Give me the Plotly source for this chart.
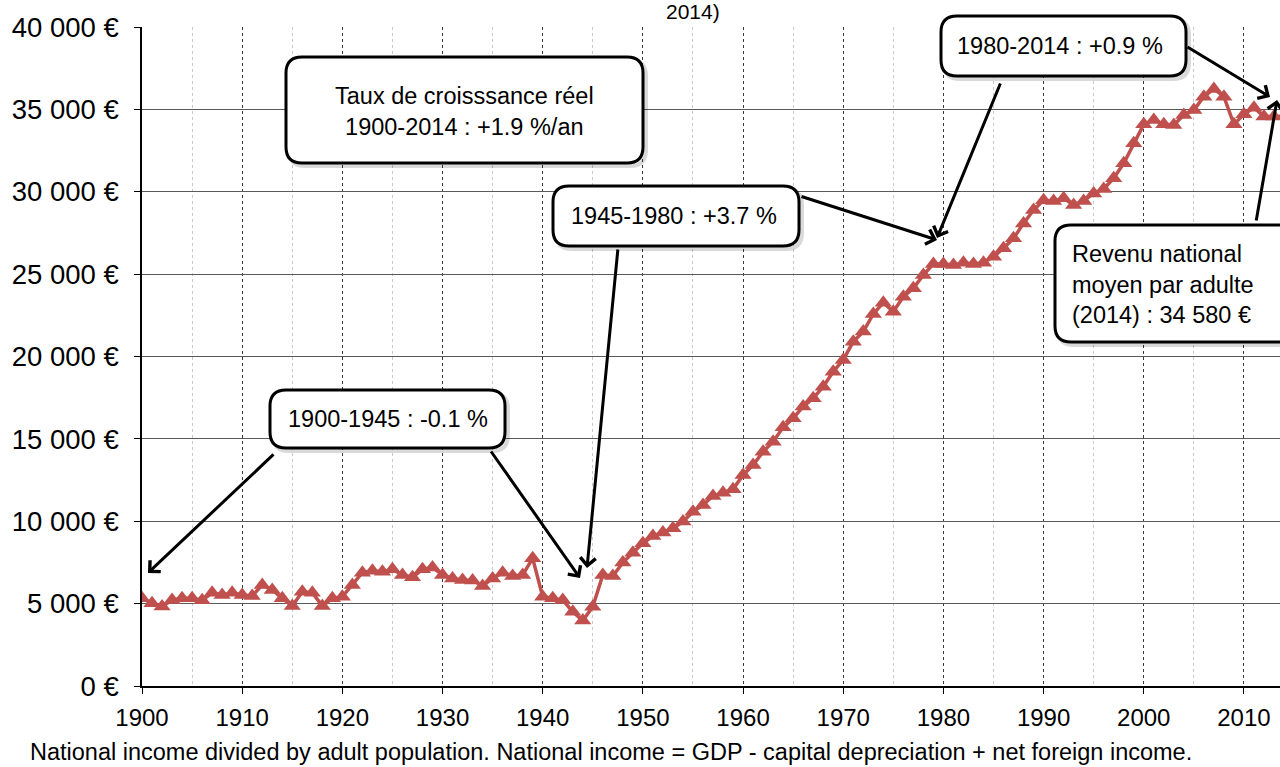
import plotly.graph_objects as go

years = list(range(1900, 2015))
income = [
    5320, 5020, 4820, 5220, 5320, 5320, 5200, 5660, 5520, 5660,
    5520, 5470, 6130, 5830, 5320, 4860, 5720, 5660, 4860, 5320,
    5420, 6130, 6880, 7000, 6940, 7080, 6740, 6600, 7080, 7200,
    6740, 6530, 6430, 6400, 6070, 6530, 6880, 6680, 6740, 7750,
    5420, 5320, 5220, 4510, 3970, 4810, 6740, 6680, 7490, 8090,
    8660, 9100, 9310, 9570, 9980, 10580, 10990, 11530, 11730, 11940,
    12810, 13410, 14220, 14830, 15700, 16250, 16960, 17460, 18170, 19080,
    19790, 20900, 21510, 22580, 23270, 22720, 23630, 24140, 24950, 25620,
    25620, 25550, 25690, 25620, 25690, 26060, 26570, 27170, 28080, 28890,
    29480, 29440, 29600, 29200, 29440, 29900, 30170, 30820, 31730, 32940,
    34090, 34360, 34090, 34050, 34660, 34960, 35770, 36240, 35770, 34090,
    34700, 35100, 34560, 34560, 34580,
]
y_tickvals = [0, 5000, 10000, 15000, 20000, 25000, 30000, 35000, 40000]
y_ticktext = ["0 €", "5 000 €", "10 000 €", "15 000 €", "20 000 €",
              "25 000 €", "30 000 €", "35 000 €", "40 000 €"]
x_tickvals = [1900, 1910, 1920, 1930, 1940, 1950, 1960, 1970, 1980, 1990, 2000, 2010]

title_tail = "2014)"
footnote = ("National income divided by adult population. National income = "
            "GDP - capital depreciation + net foreign income.")

# annotation boxes: (text, left, top, right, bottom, align, text anchor x, text y)
boxes = [
    ("Taux de croisssance réel<br>1900-2014 : +1.9 %/an", 286, 57, 643, 163, "center", 464, 112),
    ("1900-1945 : -0.1 %", 270, 390, 505, 448, "center", 388, 419),
    ("1945-1980 : +3.7 %", 553, 186, 799, 246, "center", 674, 216),
    ("1980-2014 : +0.9 %", 941, 16, 1186, 76, "center", 1060, 46),
    ("Revenu national<br>moyen par adulte<br>(2014) : 34 580 €", 1055, 225, 1300, 342, "left", 1070, 284),
]
# arrows: (tail px, head px)
arrows = [
    ((275, 453), (148, 573)),
    ((490, 450), (580, 578)),
    ((618, 248), (587, 568)),
    ((800, 196), (937, 240)),
    ((1001, 82), (937, 238)),
    ((1186, 46), (1270, 97)),
    ((1256, 222), (1277, 100)),
]

W, H = 1280, 767
L, R, T, B = 142, 0, 27, 81
PW, PH = W - L - R, H - T - B
FONT = "Liberation Sans, Arial, sans-serif"
XR = [1900, 2013.6]


def px2paper(px, py):
    return (px - L) / PW, (H - B - py) / PH


def px2data(px, py):
    return XR[0] + (px - L) / PW * (XR[1] - XR[0]), (H - B - py) / PH * 40000


def rounded_path(l, t, r, b, rad=16):
    def p(x, y):
        a, c = px2paper(x, y)
        return f"{a:.5f},{c:.5f}"
    return (f"M{p(l + rad, t)} L{p(r - rad, t)} Q{p(r, t)} {p(r, t + rad)} "
            f"L{p(r, b - rad)} Q{p(r, b)} {p(r - rad, b)} L{p(l + rad, b)} "
            f"Q{p(l, b)} {p(l, b - rad)} L{p(l, t + rad)} Q{p(l, t)} {p(l + rad, t)} Z")


fig = go.Figure()
fig.add_trace(go.Scatter(
    x=years, y=income, mode="lines+markers",
    line=dict(color="#C0504D", width=3.5),
    marker=dict(symbol="triangle-up", size=15, color="#C0504D"),
    showlegend=False, hoverinfo="x+y",
))

shapes = []
annotations = []
for text, l, t, r, b, align, tx, ty in boxes:
    shapes.append(dict(type="path", xref="paper", yref="paper",
                       path=rounded_path(l + 3, t + 3, r + 3, b + 3),
                       line=dict(color="rgba(0,0,0,0.15)", width=4),
                       fillcolor="rgba(0,0,0,0)", layer="above"))
    shapes.append(dict(type="path", xref="paper", yref="paper",
                       path=rounded_path(l, t, r, b),
                       line=dict(color="black", width=3),
                       fillcolor="white", layer="above"))
    ax_, ay_ = px2paper(tx, ty)
    annotations.append(dict(
        x=ax_, y=ay_, xref="paper", yref="paper", text=text, showarrow=False,
        xanchor="center" if align == "center" else "left", yanchor="middle",
        align=align, font=dict(family=FONT, size=23.5, color="black"),
    ))

for (tx, ty), (hx, hy) in arrows:
    hxd, hyd = px2data(hx, hy)
    txd, tyd = px2data(tx, ty)
    annotations.append(dict(
        x=hxd, y=hyd, ax=txd, ay=tyd, xref="x", yref="y", axref="x", ayref="y",
        showarrow=True, arrowhead=4, arrowsize=1, arrowwidth=3, arrowcolor="black",
        text="",
    ))

tx, ty = px2paper(693, 11)
annotations.append(dict(x=tx, y=ty, xref="paper", yref="paper", text=title_tail,
                        showarrow=False, xanchor="center", yanchor="middle",
                        font=dict(family=FONT, size=21, color="black")))
fx, fy = px2paper(28, 752)
annotations.append(dict(x=fx, y=fy, xref="paper", yref="paper", text=footnote,
                        showarrow=False, xanchor="left", yanchor="middle",
                        font=dict(family=FONT, size=23.5, color="black")))

fig.update_layout(
    width=W, height=H,
    margin=dict(l=L, r=R, t=T, b=B),
    paper_bgcolor="white", plot_bgcolor="white",
    font=dict(family=FONT, size=24, color="black"),
    shapes=shapes, annotations=annotations,
    xaxis=dict(
        range=XR, tickvals=x_tickvals, ticktext=[str(v) for v in x_tickvals],
        showgrid=True, gridcolor="#3a3a3a", griddash="dot", gridwidth=1,
        minor=dict(dtick=5, tick0=1900, showgrid=True, gridcolor="#c8c8c8", gridwidth=1),
        ticks="outside", ticklen=6, tickcolor="black", ticklabelstandoff=3,
        showline=True, linecolor="black", linewidth=1.5, zeroline=False,
        tickfont=dict(size=24),
    ),
    yaxis=dict(
        range=[0, 40000], tickvals=y_tickvals, ticktext=y_ticktext,
        showgrid=True, gridcolor="#5a5a5a", gridwidth=1.3,
        ticks="outside", ticklen=6, tickcolor="black", ticklabelstandoff=10,
        showline=True, linecolor="black", linewidth=1.5, zeroline=False,
        tickfont=dict(size=27.5),
    ),
)

fig.write_html(
    "out.html",
    config={"displayModeBar": False},
    post_script="document.body.style.margin='0';document.body.style.overflow='hidden';",
)
